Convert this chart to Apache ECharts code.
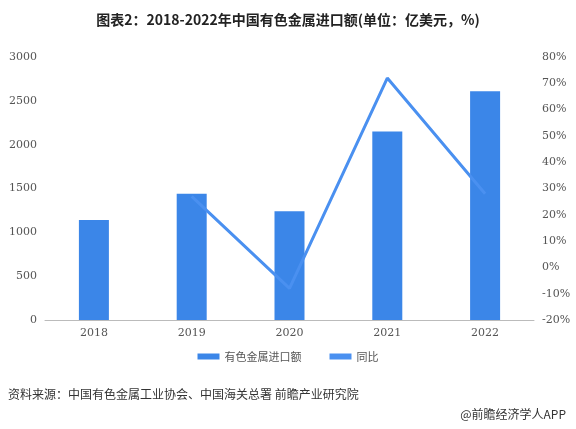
<!DOCTYPE html>
<html><head><meta charset="utf-8">
<script src="https://cdn.jsdelivr.net/npm/echarts@6/dist/echarts.min.js"></script>
<style>html,body{margin:0;padding:0;background:#fff}#c{width:576px;height:429px}</style>
</head><body><div id="c"></div>
<script>
// 年份、进口额（亿美元）、同比（%）
var years = ['2018', '2019', '2020', '2021', '2022'];
var importValue = [1140, 1440, 1240, 2150, 2610];
var yoy = [null, 27, -8, 72, 28];

var chart = echarts.init(document.getElementById('c'));
var font = '"Microsoft YaHei","Noto Sans CJK SC",sans-serif';
chart.setOption({
    textStyle: { fontFamily: font },
    title: {
        text: '图表2：2018-2022年中国有色金属进口额(单位：亿美元，%)',
        left: 'center', top: 8,
        textStyle: { fontSize: 14, fontWeight: 'bold', color: '#222', fontFamily: font }
    },
    legend: {
        data: [{ name: '有色金属进口额', icon: 'rect' }, { name: '同比', icon: 'rect' }],
        bottom: 62, itemWidth: 22, itemHeight: 6, itemGap: 28,
        textStyle: { fontSize: 11, color: '#555' }
    },
    grid: { left: 45, right: 42, top: 57, bottom: 109 },
    xAxis: {
        type: 'category', data: years,
        axisTick: { show: false },
        axisLine: { lineStyle: { color: '#bbb' } },
        axisLabel: { color: '#555', fontSize: 11, fontFamily: 'DejaVu Serif' }
    },
    yAxis: [{
        type: 'value', min: 0, max: 3000, interval: 500,
        splitLine: { show: false },
        axisLabel: { color: '#555', fontSize: 11, fontFamily: 'DejaVu Serif', formatter: function (v) { return String(v); } }
    }, {
        type: 'value', min: -20, max: 80, interval: 10,
        splitLine: { show: false },
        axisLabel: { color: '#555', fontSize: 11, fontFamily: 'DejaVu Serif', formatter: '{value}%' }
    }],
    series: [{
        name: '有色金属进口额', type: 'bar', data: importValue,
        barWidth: 30, itemStyle: { color: '#3b86e8' }
    }, {
        name: '同比', type: 'line', yAxisIndex: 1, data: yoy,
        showSymbol: false, lineStyle: { width: 3, color: '#4a90f0' }, itemStyle: { color: '#4a90f0' }
    }],
    graphic: [{
        type: 'text', left: 8, top: 388,
        style: { text: '资料来源：中国有色金属工业协会、中国海关总署 前瞻产业研究院', fontSize: 12, fill: '#333', fontFamily: font }
    }, {
        type: 'text', right: 10, top: 408,
        style: { text: '@前瞻经济学人APP', fontSize: 12, fill: '#333', fontFamily: font }
    }]
});
</script></body></html>
